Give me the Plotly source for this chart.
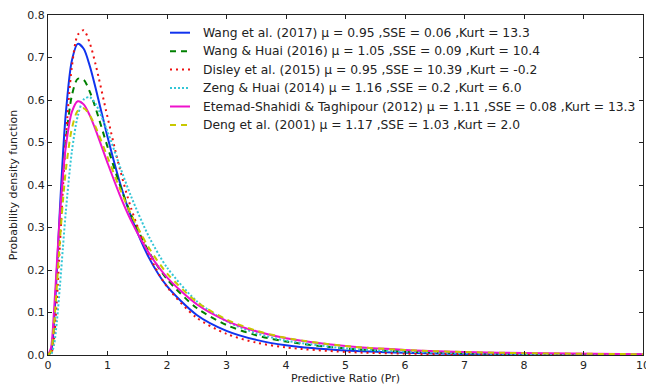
import plotly.graph_objects as go

x_vals = [0, 0.05, 0.1, 0.15, 0.2, 0.25, 0.3, 0.4, 0.5, 0.6, 0.7, 0.8, 1.0, 1.2, 1.4,
          1.7, 2.0, 2.5, 3.0, 3.5, 4.0, 5.0, 6.0, 7.0, 8.0, 10.0]

wang2017 = [0, 0.0076, 0.0762, 0.2023, 0.3426, 0.4687, 0.5695, 0.692, 0.732, 0.7206, 0.681,
            0.628, 0.5136, 0.4096, 0.3241, 0.228, 0.1619, 0.0942, 0.0569, 0.0356, 0.0229,
            0.0103, 0.00505, 0.00264, 0.00146, 0.00051]
wang_huai2016 = [0, 0.009, 0.0759, 0.1887, 0.3094, 0.4169, 0.5027, 0.6098, 0.650, 0.6474, 0.6205,
                 0.5809, 0.490, 0.4031, 0.3287, 0.2415, 0.1786, 0.1105, 0.0706, 0.0465, 0.0315,
                 0.0154, 0.00813, 0.00456, 0.00268, 0.00104]
disley2015 = [0, 0.0021, 0.0379, 0.1307, 0.258, 0.3904, 0.509, 0.6764, 0.7532, 0.7642, 0.7347,
              0.6836, 0.560, 0.4422, 0.3439, 0.2344, 0.1605, 0.0876, 0.0497, 0.0292, 0.0177,
              0.00712, 0.00314, 0.00149, 0.00076, 0.00022]
zeng_huai2014 = [0, 0.0014, 0.0229, 0.0798, 0.1616, 0.2517, 0.3385, 0.4775, 0.5624, 0.6012, 0.6068,
                 0.5909, 0.5258, 0.4471, 0.3719, 0.2774, 0.2059, 0.1265, 0.0795, 0.0512, 0.0338,
                 0.0157, 0.00784, 0.00416, 0.00232, 0.00081]
etemad2012 = [0, 0.0166, 0.1011, 0.2176, 0.329, 0.4209, 0.4903, 0.5713, 0.5971, 0.5898, 0.5643,
              0.5296, 0.4522, 0.3787, 0.3151, 0.2392, 0.1828, 0.1195, 0.0805, 0.0557, 0.0395,
              0.0211, 0.012, 0.00724, 0.00455, 0.00198]
deng2001 = [0, 0.009, 0.0689, 0.1658, 0.2686, 0.3604, 0.4349, 0.5323, 0.5746, 0.5806, 0.5647,
            0.5366, 0.4659, 0.3941, 0.3298, 0.2513, 0.1921, 0.1251, 0.0836, 0.0574, 0.0403,
            0.0211, 0.0118, 0.00697, 0.0043, 0.00181]

names = [
    "Wang et al. (2017) μ = 0.95 ,SSE = 0.06 ,Kurt = 13.3",
    "Wang & Huai (2016) μ = 1.05 ,SSE = 0.09 ,Kurt = 10.4",
    "Disley et al. (2015) μ = 0.95 ,SSE = 10.39 ,Kurt = -0.2",
    "Zeng & Huai (2014) μ = 1.16 ,SSE = 0.2 ,Kurt = 6.0",
    "Etemad-Shahidi & Taghipour (2012) μ = 1.11 ,SSE = 0.08 ,Kurt = 13.3",
    "Deng et al. (2001) μ = 1.17 ,SSE = 1.03 ,Kurt = 2.0",
]
series = [wang2017, wang_huai2016, disley2015, zeng_huai2014, etemad2012, deng2001]
colors = ["#1033ee", "#008000", "#ee1111", "#33c6d6", "#ee11cc", "#c8c800"]
dashes = ["solid", "6px,5px", "2px,4px", "2px,2px", "solid", "6px,5px"]

fig = go.Figure()
for nm, ys, c, d in zip(names, series, colors, dashes):
    fig.add_trace(go.Scatter(x=x_vals, y=ys, mode="lines", name=nm, showlegend=False,
                             line=dict(color=c, width=2, dash=d, shape="spline", smoothing=0.8)))

# custom legend (matplotlib-style, frameless)
L, R, T, B = 48, 643, 15, 355
W, H = R - L, B - T
for i, (nm, c, d) in enumerate(zip(names, colors, dashes)):
    py = 32.7 + i * 18.45
    yp = (B - py) / H
    fig.add_shape(type="line", xref="paper", yref="paper",
                  x0=(170 - L) / W, x1=(190 - L) / W, y0=yp, y1=yp,
                  line=dict(color=c, width=2, dash=d))
    fig.add_annotation(xref="paper", yref="paper", x=(201 - L) / W, y=yp,
                       xanchor="left", yanchor="middle", text=nm, showarrow=False,
                       font=dict(size=12.3, color="#222"))

axis_common = dict(showline=True, linecolor="#222", linewidth=1, mirror="allticks",
                   ticks="inside", ticklen=4, tickcolor="#222", showgrid=False,
                   zeroline=False, tickfont=dict(size=11, color="#222"))

fig.update_layout(
    width=646, height=385,
    margin=dict(l=L, r=646 - R, t=T, b=385 - B),
    paper_bgcolor="white", plot_bgcolor="white",
    font=dict(family="DejaVu Sans", size=11, color="#222"),
    xaxis=dict(range=[0, 10], dtick=1, tick0=0, ticklabeloverflow="allow",
               title=dict(text="Predictive Ratio (Pr)", standoff=2, font=dict(size=11)),
               automargin=False, **axis_common),
    yaxis=dict(range=[0, 0.8], dtick=0.1, tick0=0, tickformat=".1f",
               title=dict(text="Probability density function", standoff=7, font=dict(size=11)),
               automargin=False, **axis_common),
    showlegend=False,
)

fig.write_html("out.html", config={"displayModeBar": False},
               post_script="document.body.style.margin='0';document.body.style.overflow='hidden';")
